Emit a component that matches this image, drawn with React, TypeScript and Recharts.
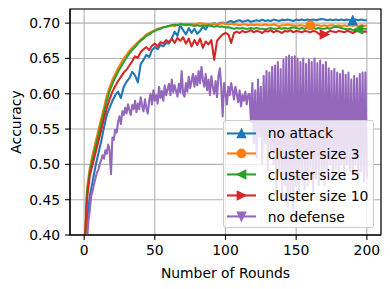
import React from "react";
import {
  LineChart,
  Line,
  XAxis,
  YAxis,
  CartesianGrid,
  Legend,
  ReferenceArea,
} from "recharts";

const FONT = "'DejaVu Sans', Verdana, sans-serif";

const X_TICKS = [0, 50, 100, 150, 200];
const Y_TICKS = [0.4, 0.45, 0.5, 0.55, 0.6, 0.65, 0.7];

// rounds 0..200, the four defended runs are read every 2 rounds
const ROUNDS = Array.from({ length: 201 }, (_, i) => i);

const NO_ATTACK = [
  0.33, 0.42, 0.455, 0.476, 0.497, 0.515, 0.532, 0.552, 0.57, 0.58,
  0.59, 0.598, 0.603, 0.594, 0.61, 0.617, 0.622, 0.631, 0.626, 0.616,
  0.642, 0.648, 0.655, 0.652, 0.662, 0.666, 0.663, 0.669, 0.667, 0.672,
  0.671, 0.678, 0.688, 0.682, 0.697, 0.69, 0.684, 0.693, 0.686, 0.692,
  0.685, 0.689, 0.695, 0.691, 0.698, 0.696, 0.7, 0.698, 0.7, 0.701,
  0.699, 0.702, 0.703, 0.701, 0.703, 0.704, 0.702, 0.703, 0.704, 0.702,
  0.703, 0.704, 0.703, 0.705, 0.703, 0.704, 0.703, 0.705, 0.704, 0.703,
  0.705, 0.704, 0.705, 0.704, 0.703, 0.705, 0.704, 0.705, 0.704, 0.705,
  0.704, 0.705, 0.704, 0.705, 0.706, 0.705, 0.704, 0.705, 0.704, 0.705,
  0.704, 0.705, 0.704, 0.705, 0.704, 0.704, 0.705, 0.704, 0.705, 0.704,
  0.704,
];

const CLUSTER_3 = [
  0.36, 0.465, 0.495, 0.514, 0.531, 0.548, 0.564, 0.58, 0.597, 0.609,
  0.62, 0.628, 0.636, 0.643, 0.65, 0.655, 0.661, 0.665, 0.669, 0.673,
  0.677, 0.68, 0.684, 0.686, 0.688, 0.69, 0.692, 0.693, 0.694, 0.695,
  0.696, 0.697, 0.696, 0.698, 0.697, 0.698, 0.699, 0.698, 0.699, 0.698,
  0.699, 0.7, 0.699, 0.699, 0.698, 0.699, 0.699, 0.698, 0.699, 0.7,
  0.699, 0.698, 0.699, 0.698, 0.698, 0.697, 0.698, 0.698, 0.697, 0.698,
  0.697, 0.698, 0.697, 0.697, 0.698, 0.697, 0.697, 0.698, 0.697, 0.696,
  0.697, 0.697, 0.698, 0.697, 0.697, 0.696, 0.697, 0.697, 0.696, 0.697,
  0.697, 0.696, 0.697, 0.697, 0.696, 0.697, 0.696, 0.697, 0.697, 0.696,
  0.697, 0.696, 0.697, 0.696, 0.697, 0.696, 0.697, 0.696, 0.697, 0.696,
  0.697,
];

const CLUSTER_5 = [
  0.35, 0.46, 0.49, 0.508, 0.525, 0.541, 0.557, 0.574, 0.59, 0.604,
  0.614, 0.623, 0.631, 0.638, 0.645, 0.651, 0.657, 0.662, 0.666, 0.671,
  0.675, 0.678, 0.682, 0.684, 0.687, 0.689, 0.691, 0.692, 0.694, 0.695,
  0.696, 0.697, 0.698, 0.697, 0.699, 0.698, 0.697, 0.698, 0.697, 0.696,
  0.697, 0.696, 0.697, 0.696, 0.697, 0.696, 0.695, 0.696, 0.695, 0.695,
  0.694, 0.694, 0.693, 0.692, 0.693, 0.692, 0.693, 0.692, 0.692, 0.693,
  0.692, 0.693, 0.692, 0.692, 0.691, 0.692, 0.693, 0.692, 0.692, 0.693,
  0.692, 0.693, 0.692, 0.693, 0.694, 0.693, 0.692, 0.693, 0.692, 0.693,
  0.692, 0.693, 0.692, 0.693, 0.692, 0.692, 0.693, 0.692, 0.694, 0.695,
  0.694, 0.693, 0.692, 0.691, 0.692, 0.69, 0.689, 0.691, 0.692, 0.692,
  0.692,
];

const CLUSTER_10 = [
  0.37, 0.45, 0.484, 0.5, 0.516, 0.532, 0.548, 0.565, 0.58, 0.592,
  0.603, 0.611, 0.618, 0.624, 0.63, 0.634, 0.64, 0.646, 0.653, 0.651,
  0.659, 0.663, 0.666, 0.662, 0.668, 0.671, 0.667, 0.673, 0.671, 0.676,
  0.673, 0.678, 0.672, 0.679, 0.675, 0.68, 0.671, 0.678, 0.667, 0.676,
  0.669, 0.678, 0.665, 0.674, 0.67, 0.676, 0.648, 0.675, 0.68, 0.684,
  0.686, 0.684, 0.672, 0.686, 0.688, 0.686, 0.689, 0.687, 0.688, 0.69,
  0.687, 0.689, 0.688, 0.686, 0.689, 0.688, 0.69, 0.687, 0.689, 0.688,
  0.686, 0.689, 0.688, 0.69, 0.687, 0.689, 0.688, 0.687, 0.689, 0.688,
  0.687, 0.689, 0.688, 0.685, 0.683, 0.684, 0.687, 0.689, 0.688, 0.687,
  0.689, 0.688, 0.687, 0.689, 0.688, 0.686, 0.688, 0.689, 0.687, 0.688,
  0.688,
];

// every round
const NO_DEFENSE = [
  0.3, 0.35, 0.39, 0.42, 0.435, 0.455, 0.463, 0.472, 0.48, 0.488,
  0.492, 0.5, 0.506, 0.513, 0.508, 0.52, 0.515, 0.528, 0.52, 0.486,
  0.538, 0.535, 0.549, 0.545, 0.56, 0.568, 0.557, 0.575, 0.57, 0.58,
  0.572, 0.585, 0.577, 0.57, 0.584, 0.578, 0.59, 0.574, 0.586, 0.578,
  0.595, 0.583, 0.575, 0.592, 0.58, 0.572, 0.59, 0.6, 0.585, 0.605,
  0.59, 0.598, 0.586, 0.61, 0.594, 0.604, 0.59, 0.612, 0.598, 0.606,
  0.614, 0.598, 0.62, 0.602, 0.612, 0.604, 0.596, 0.614, 0.602, 0.632,
  0.6, 0.596, 0.615, 0.603, 0.624, 0.608, 0.618, 0.628, 0.61, 0.625,
  0.612, 0.632, 0.615, 0.638, 0.62, 0.61, 0.628, 0.605, 0.62, 0.598,
  0.625, 0.61, 0.6, 0.618, 0.595, 0.625, 0.636, 0.61, 0.568, 0.615,
  0.6, 0.585, 0.61, 0.598, 0.615, 0.605, 0.592, 0.61, 0.6, 0.588,
  0.605, 0.582, 0.598, 0.59, 0.603, 0.585, 0.598, 0.6, 0.56, 0.615,
  0.53, 0.605, 0.51, 0.62, 0.54, 0.61, 0.5, 0.625, 0.53, 0.632,
  0.49, 0.63, 0.52, 0.638, 0.5, 0.64, 0.46, 0.645, 0.49, 0.635,
  0.45, 0.648, 0.47, 0.652, 0.44, 0.654, 0.46, 0.652, 0.435, 0.653,
  0.47, 0.65, 0.46, 0.645, 0.48, 0.65, 0.465, 0.642, 0.47, 0.648,
  0.49, 0.645, 0.46, 0.65, 0.48, 0.643, 0.47, 0.647, 0.485, 0.641,
  0.47, 0.645, 0.49, 0.636, 0.5, 0.632, 0.48, 0.635, 0.495, 0.63,
  0.49, 0.628, 0.5, 0.633, 0.48, 0.627, 0.5, 0.63, 0.49, 0.62,
  0.485, 0.625, 0.5, 0.622, 0.48, 0.628, 0.49, 0.63, 0.475, 0.63,
  0.48,
];

type Shape = "up" | "circle" | "left" | "right" | "down";

const SERIES: { key: string; name: string; color: string; shape: Shape; markAt: number | null }[] = [
  { key: "noAttack", name: "no attack", color: "#1f77b4", shape: "up", markAt: 190 },
  { key: "cluster3", name: "cluster size 3", color: "#ff7f0e", shape: "circle", markAt: 160 },
  { key: "cluster5", name: "cluster size 5", color: "#2ca02c", shape: "left", markAt: 194 },
  { key: "cluster10", name: "cluster size 10", color: "#d62728", shape: "right", markAt: 170 },
  { key: "noDefense", name: "no defense", color: "#9467bd", shape: "down", markAt: null },
];

const data = ROUNDS.map((r) => ({
  round: r,
  noAttack: r % 2 === 0 ? NO_ATTACK[r / 2] : null,
  cluster3: r % 2 === 0 ? CLUSTER_3[r / 2] : null,
  cluster5: r % 2 === 0 ? CLUSTER_5[r / 2] : null,
  cluster10: r % 2 === 0 ? CLUSTER_10[r / 2] : null,
  noDefense: NO_DEFENSE[r],
}));

function Marker({ cx, cy, shape, color }: { cx: number; cy: number; shape: Shape; color: string }) {
  const s = 4.15;
  const paint = { fill: color, stroke: color, strokeWidth: 1.4 };
  if (shape === "circle") return <circle cx={cx} cy={cy} r={s} {...paint} />;
  let pts = "";
  if (shape === "up") pts = `${cx},${cy - s} ${cx - s},${cy + s} ${cx + s},${cy + s}`;
  if (shape === "down") pts = `${cx},${cy + s} ${cx - s},${cy - s} ${cx + s},${cy - s}`;
  if (shape === "left") pts = `${cx - s},${cy} ${cx + s},${cy - s} ${cx + s},${cy + s}`;
  if (shape === "right") pts = `${cx + s},${cy} ${cx - s},${cy - s} ${cx - s},${cy + s}`;
  return <polygon points={pts} {...paint} />;
}

function LegendBox() {
  return (
    <div
      style={{
        boxSizing: "border-box",
        width: 151,
        height: 108,
        background: "rgba(255,255,255,0.8)",
        border: "1.1px solid #cccccc",
        borderRadius: 3,
        padding: "1.5px 0 0 3px",
        fontFamily: FONT,
        fontSize: 13.9,
        color: "#000",
      }}
    >
      {SERIES.map((s) => (
        <div key={s.key} style={{ display: "flex", alignItems: "center", height: 20.9 }}>
          <svg width={29} height={20.9} style={{ flex: "none" }}>
            <line x1={0} x2={29} y1={10.45} y2={10.45} stroke={s.color} strokeWidth={2.08} />
            <Marker cx={14.5} cy={10.45} shape={s.shape} color={s.color} />
          </svg>
          <span style={{ marginLeft: 11.7, whiteSpace: "nowrap" }}>{s.name}</span>
        </div>
      ))}
    </div>
  );
}

export default function App() {
  const tickStyle = { fill: "#000", fontSize: 13.9, fontFamily: FONT };
  return (
    <div style={{ width: 390, height: 289 }}>
      <style>{"body{margin:0}"}</style>
      <LineChart
        width={390}
        height={289}
        data={data}
        margin={{ top: 9, right: 9, bottom: 0, left: 0 }}
        style={{ fontFamily: FONT }}
      >
        <CartesianGrid stroke="#b0b0b0" strokeWidth={1.1} />
        <XAxis
          dataKey="round"
          type="number"
          domain={[-10, 210]}
          ticks={X_TICKS}
          allowDataOverflow
          height={54}
          tick={tickStyle}
          tickSize={4.9}
          tickMargin={4.9}
          axisLine={{ stroke: "#000", strokeWidth: 1.1 }}
          tickLine={{ stroke: "#000", strokeWidth: 1.1 }}
          label={{ value: "Number of Rounds", position: "insideBottom", offset: 11, fill: "#000", fontSize: 13.9 }}
        />
        <YAxis
          type="number"
          domain={[0.4, 0.72]}
          ticks={Y_TICKS}
          allowDataOverflow
          width={70}
          tick={tickStyle}
          tickSize={4.9}
          tickMargin={4.9}
          tickFormatter={(v: number) => v.toFixed(2)}
          axisLine={{ stroke: "#000", strokeWidth: 1.1 }}
          tickLine={{ stroke: "#000", strokeWidth: 1.1 }}
          label={{
            value: "Accuracy",
            angle: -90,
            position: "insideLeft",
            offset: 16,
            fill: "#000",
            fontSize: 13.9,
            style: { textAnchor: "middle" },
          }}
        />
        {SERIES.map((s) => (
          <Line
            key={s.key}
            dataKey={s.key}
            name={s.name}
            stroke={s.color}
            strokeWidth={2.08}
            strokeLinejoin="round"
            connectNulls
            isAnimationActive={false}
            activeDot={false}
            dot={(p: any) =>
              s.markAt !== null && p.payload && p.payload.round === s.markAt ? (
                <Marker key={`m-${s.key}`} cx={p.cx} cy={p.cy} shape={s.shape} color={s.color} />
              ) : (
                <g key={`d-${s.key}-${p.index}`} />
              )
            }
          />
        ))}
        <ReferenceArea
          x1={-10}
          x2={210}
          y1={0.4}
          y2={0.72}
          fill="none"
          stroke="#000"
          strokeWidth={1.1}
          ifOverflow="visible"
        />
        <Legend
          layout="vertical"
          align="center"
          verticalAlign="middle"
          content={() => <LegendBox />}
          wrapperStyle={{ left: 223, top: 120, width: 151, height: 108 }}
        />
      </LineChart>
    </div>
  );
}
